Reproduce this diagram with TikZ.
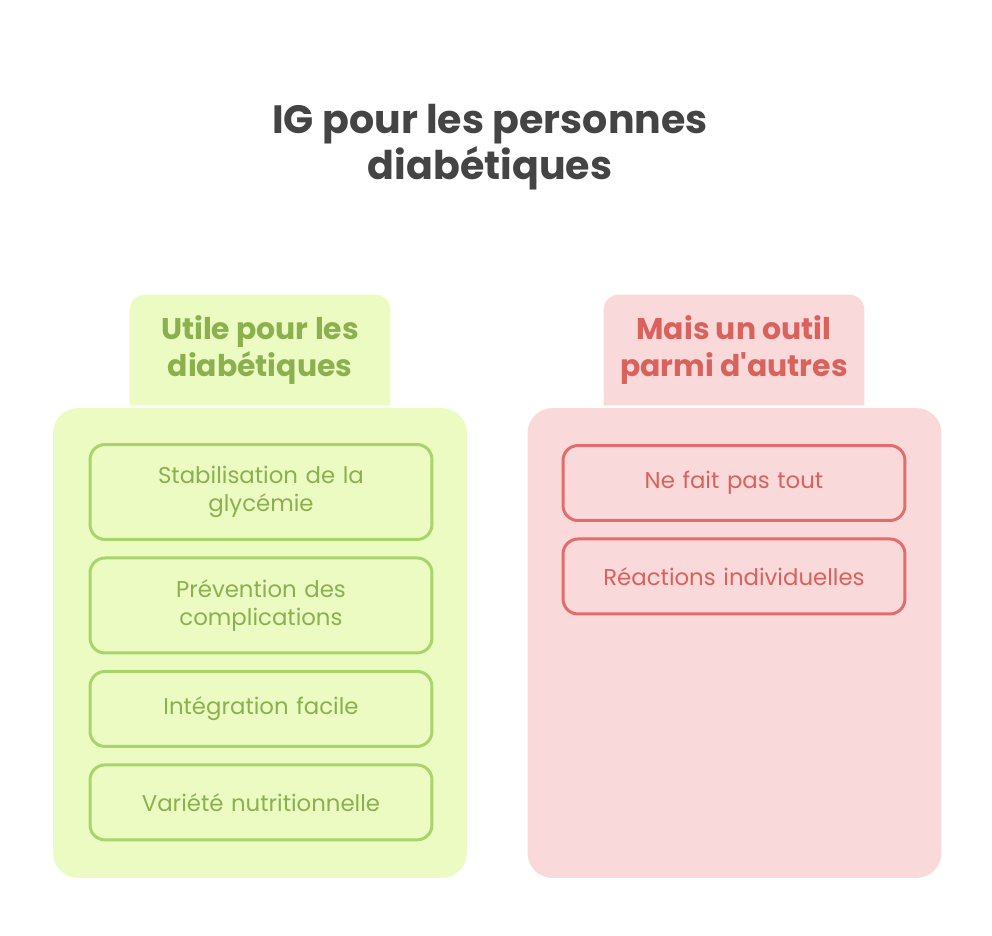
\documentclass[tikz,border=0pt]{standalone}
\usepackage{fontspec}
\setmainfont{Poppins}
\usepackage{tikz}
\usetikzlibrary{positioning, backgrounds}
\definecolor{limefill}{HTML}{EBFBC1}
\definecolor{limeline}{HTML}{A9D46A}
\definecolor{limetext}{HTML}{8CB04E}
\definecolor{rosefill}{HTML}{F9D9D9}
\definecolor{roseline}{HTML}{E36C6C}
\definecolor{rosetext}{HTML}{D9625D}
\definecolor{titlegray}{HTML}{444444}
\tikzset{
	panel/.style={
		rectangle,
		rounded corners=0.5cm,
		minimum width=8.28cm,
		minimum height=9.4cm,
		inner sep=0pt
	},
	header/.style={
		align=center,
		font=\fontsize{17}{21}\selectfont\bfseries,
		minimum width=5.2cm,
		minimum height=2.2cm,
		inner sep=0pt
	},
	item/.style={
		rectangle,
		rounded corners=0.3cm,
		line width=1.7pt,
		align=center,
		text width=6.2cm,
		minimum width=6.84cm,
		minimum height=1.5cm,
		inner sep=0pt,
		font=\fontsize{13}{16}\selectfont
	},
	green item/.style={item, draw=limeline, text=limetext},
	red item/.style={item, draw=roseline, text=rosetext}
}

\begin{document}
\begin{tikzpicture}[x=0.02cm, y=-0.02cm, node distance=0.31cm]
	\useasboundingbox (0,0) rectangle (992,936);

	\node[align=center, text=titlegray, font=\fontsize{22.5}{26}\selectfont\bfseries] (title) at (490,147)
		{IG pour les personnes\\diabétiques};

	% left column
	\node[panel, fill=limefill] (panelL) at (260,643) {};
	\node[header, text=limetext] (hdrL) at (260,350) {Utile pour les\\diabétiques};
	\node[green item, minimum height=1.9cm] (l1) at (261,492) {Stabilisation de la\\glycémie};
	\node[green item, minimum height=1.9cm, below=of l1] (l2) {Prévention des\\complications};
	\node[green item, below=of l2] (l3) {Intégration facile};
	\node[green item, below=of l3] (l4) {Variété nutritionnelle};

	% right column
	\node[panel, fill=rosefill] (panelR) at (734.5,643) {};
	\node[header, text=rosetext] (hdrR) at (734,350) {Mais un outil\\parmi d\textquotesingle autres};
	\node[red item] (r1) at (734,483) {Ne fait pas tout};
	\node[red item, below=of r1] (r2) {Réactions individuelles};

	\begin{scope}[on background layer]
		\fill[limefill] (hdrL.south west) [rounded corners=0.3cm] -- (hdrL.north west) -- (hdrL.north east) [sharp corners] -- (hdrL.south east) -- cycle;
		\fill[rosefill] (hdrR.south west) [rounded corners=0.3cm] -- (hdrR.north west) -- (hdrR.north east) [sharp corners] -- (hdrR.south east) -- cycle;
	\end{scope}
\end{tikzpicture}
\end{document}
